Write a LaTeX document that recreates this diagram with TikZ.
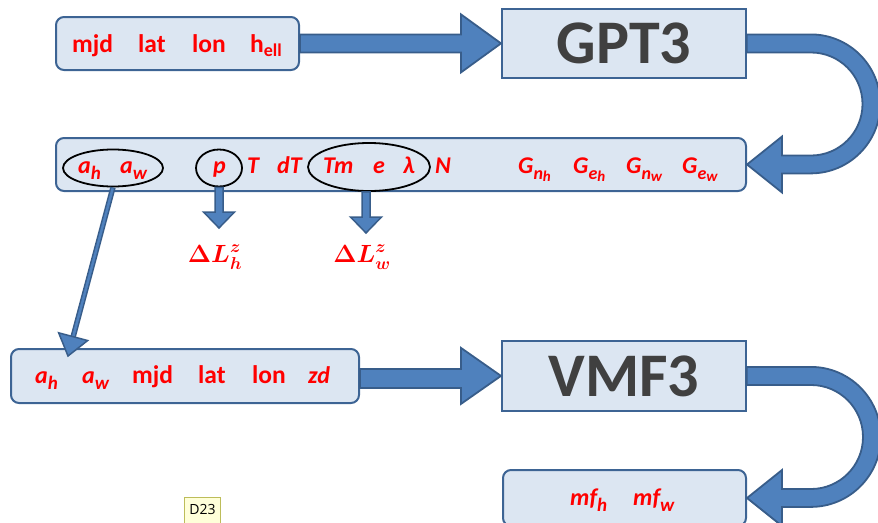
\documentclass[tikz,border=0pt]{standalone}
\usepackage{fontspec}
\setmainfont{Carlito}
\newfontfamily\uifont{Open Sans}
\usetikzlibrary{shapes.geometric,calc}
\definecolor{boxfill}{HTML}{DCE6F2}
\definecolor{boxline}{HTML}{3D6494}
\definecolor{arrfill}{HTML}{4F81BD}
\definecolor{arrline}{HTML}{385D8A}
\definecolor{gtxt}{HTML}{404040}
\definecolor{tipfill}{HTML}{FFFFD9}
\definecolor{tipline}{HTML}{BDBD5A}
\newcommand{\sbt}[1]{\raisebox{-6pt}{\fontsize{19}{19}\selectfont #1}}
\newcommand{\sbu}[1]{\raisebox{-5pt}{\fontsize{18}{18}\selectfont #1}}
\newcommand{\ssb}[2]{\raisebox{-6pt}{\fontsize{18}{18}\selectfont #1\raisebox{-2.5pt}{\fontsize{15}{15}\selectfont #2}}}
\tikzset{
 rbox/.style={draw=boxline, fill=boxfill, line width=2pt, rounded corners=8pt, inner sep=0, anchor=north west},
 sbox/.style={draw=boxline, fill=boxfill, line width=1.8pt, inner sep=0, anchor=north west},
 blockarrow/.style={draw=arrline, fill=arrfill, line width=1.8pt, line join=miter},
 uptxt/.style={text=red, font=\bfseries\fontsize{25.5}{30}\selectfont, anchor=base west, inner sep=0},
 ittxt/.style={text=red, font=\bfseries\itshape\fontsize{24}{28}\selectfont, anchor=base west, inner sep=0},
 ring/.style={ellipse, draw=black, line width=1.8pt, inner sep=0},
 mathlbl/.style={text=red, font=\fontsize{25}{30}\selectfont\boldmath, anchor=base, inner sep=0},
 bigtxt/.style={text=gtxt, font=\bfseries\fontsize{62}{70}\selectfont},
}
\begin{document}
\begin{tikzpicture}[x=1pt,y=1pt]
\useasboundingbox (0,0) rectangle (878,-522);
\clip (0,0) rectangle (878,-522);
% boxes
\node[rbox, minimum width=243pt, minimum height=53pt] (b1) at (55,-16) {};
\node[sbox, bigtxt, minimum width=244pt, minimum height=69pt] (gpt) at (501,-8) {GPT3};
\node[rbox, minimum width=690pt, minimum height=53pt] (b2) at (55,-137) {};
\node[rbox, minimum width=348pt, minimum height=54pt] (b3) at (10,-348) {};
\node[sbox, bigtxt, minimum width=244pt, minimum height=70pt] (vmf) at (501,-340) {VMF3};
\node[rbox, minimum width=243pt, minimum height=56pt] (b4) at (502,-469) {};
% straight block arrows
\draw[blockarrow] ($(b1.east)+(0,9)$) -- ($(gpt.west)+(-40,9)$) -- ($(gpt.west)+(-40,29)$) -- (gpt.west)
  -- ($(gpt.west)+(-40,-29)$) -- ($(gpt.west)+(-40,-9)$) -- ($(b1.east)+(0,-9)$) -- cycle;
\draw[blockarrow] ($(b3.east)+(0,7)$) -- ($(vmf.west)+(-40,7)$) -- ($(vmf.west)+(-40,28)$) -- (vmf.west)
  -- ($(vmf.west)+(-40,-28)$) -- ($(vmf.west)+(-40,-12)$) -- ($(b3.east)+(0,-12)$) -- cycle;
% U-turn arrows
\draw[blockarrow] ($(gpt.east)+(0,9)$) -- ($(gpt.east)+(64,9)$) arc[start angle=90,end angle=-90,radius=69.5]
  -- ($(b2.east)+(35,-9)$) -- ($(b2.east)+(35,-28)$) -- (b2.east) -- ($(b2.east)+(35,28)$)
  -- ($(b2.east)+(35,9)$) -- ($(b2.east)+(64,9)$) arc[start angle=-90,end angle=90,radius=51.5]
  -- ($(gpt.east)+(0,-9)$) -- cycle;
\draw[blockarrow] ($(vmf.east)+(0,9)$) -- ($(vmf.east)+(64,9)$) arc[start angle=90,end angle=-90,radius=70]
  -- ($(b4.east)+(35,-9)$) -- ($(b4.east)+(35,-28)$) -- (b4.east) -- ($(b4.east)+(35,28)$)
  -- ($(b4.east)+(35,9)$) -- ($(b4.east)+(64,9)$) arc[start angle=-90,end angle=90,radius=52]
  -- ($(vmf.east)+(0,-9)$) -- cycle;
% box 1 text
\node[uptxt] (t1) at (72,-52) {mjd};
\node[uptxt] (t2) at (138,-52) {lat};
\node[uptxt] (t3) at (192,-52) {lon};
\node[uptxt] (t4) at (250,-52) {h\sbu{ell}};
% box 2 text
\node[ittxt] (u1) at (78,-173) {a\sbt{h}};
\node[ittxt] (u2) at (120,-173) {a\sbt{w}};
\node[ittxt] (u3) at (213,-173) {p};
\node[ittxt] (u4) at (247,-173) {T};
\node[ittxt] (u5) at (277,-173) {dT};
\node[ittxt] (u6) at (323,-173) {Tm};
\node[ittxt] (u7) at (373,-173) {e};
\node[ittxt] (u8) at (403,-173) {λ};
\node[ittxt] (u9) at (435,-173) {N};
\node[ittxt] (g1) at (518,-173) {G\ssb{n}{h}};
\node[ittxt] (g2) at (573,-173) {G\ssb{e}{h}};
\node[ittxt] (g3) at (626,-173) {G\ssb{n}{w}};
\node[ittxt] (g4) at (682,-173) {G\ssb{e}{w}};
% ellipses
\node[ring, minimum width=100pt, minimum height=37pt] (e1) at (113,-168) {};
\node[ring, minimum width=46pt, minimum height=37pt] (ep) at (219,-168) {};
\node[ring, minimum width=122pt, minimum height=48pt] (e3) at (369,-167) {};
% small down arrows
\coordinate (tipP) at (219,-228);
\coordinate (tipW) at (366,-233);
\draw[blockarrow, line width=1.5pt] ($(ep.south -| tipP)+(-4,0)$) -- ($(tipP)+(-4,16)$) -- ($(tipP)+(-15.5,16)$) -- (tipP)
  -- ($(tipP)+(15.5,16)$) -- ($(tipP)+(4,16)$) -- ($(ep.south -| tipP)+(4,0)$) -- cycle;
\draw[blockarrow, line width=1.5pt] ($(e3.south -| tipW)+(-4,0)$) -- ($(tipW)+(-4,16)$) -- ($(tipW)+(-15.5,16)$) -- (tipW)
  -- ($(tipW)+(15.5,16)$) -- ($(tipW)+(4,16)$) -- ($(e3.south -| tipW)+(4,0)$) -- cycle;
\node[mathlbl] (dh) at (215,-262) {$\Delta L_h^z$};
\node[mathlbl] (dw) at (362,-262) {$\Delta L_w^z$};
% diagonal arrow
\coordinate (tipD) at (68,-356);
\coordinate (hb) at ($(tipD)!20pt!(e1.south)$);
\draw[arrline, line width=5.5pt] (e1.south) -- (hb);
\draw[arrfill, line width=2.5pt] ($(e1.south)!1pt!(hb)$) -- (hb);
\draw[blockarrow, line width=1.5pt] (tipD) -- ($(hb)!15pt!90:(tipD)$) -- ($(hb)!15pt!-90:(tipD)$) -- cycle;
% box 3 text
\node[ittxt] (v1) at (35,-383) {a\sbt{h}};
\node[ittxt] (v2) at (82,-383) {a\sbt{w}};
\node[uptxt] (v3) at (132,-383) {mjd};
\node[uptxt] (v4) at (198,-383) {lat};
\node[uptxt] (v5) at (252,-383) {lon};
\node[ittxt] (v6) at (308,-383) {zd};
% box 4 text
\node[ittxt] (w1) at (570,-505) {mf\sbt{h}};
\node[ittxt] (w2) at (633,-505) {mf\sbt{w}};
% comment marker
\node[draw=tipline, fill=tipfill, line width=1pt, minimum width=36pt, minimum height=30pt, inner sep=0, anchor=north west, text=black, font=\uifont\fontsize{14}{16}\selectfont] (d23) at (184,-497) {\raisebox{6pt}{D23}};
\end{tikzpicture}
\end{document}
